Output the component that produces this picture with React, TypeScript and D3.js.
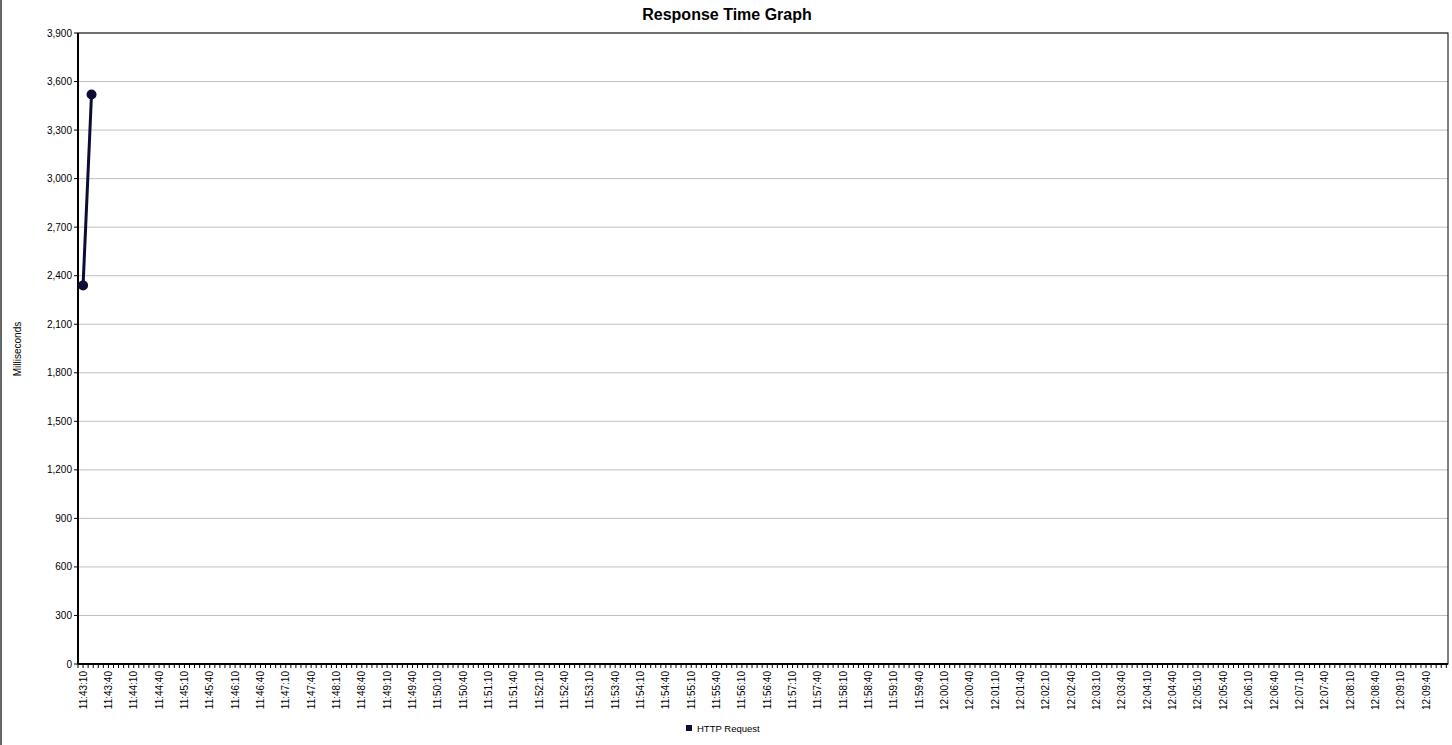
import React from "react";
import * as d3 from "d3";

const seriesName = "HTTP Request";
const times = ["11:43:10", "11:43:20"];
const values = [2340, 3520];
const yTicks = [0, 300, 600, 900, 1200, 1500, 1800, 2100, 2400, 2700, 3000, 3300, 3600, 3900];
const xStart = "11:43:04";
const xEnd = "12:10:06";
const labelStart = "11:43:10";

const parse = d3.timeParse("%H:%M:%S");
const fmt = d3.timeFormat("%H:%M:%S");

// ticks stepping from a given start (not aligned to clock boundaries)
const stepTicks = (from: Date, to: Date, sec: number) =>
  d3.range(0, (to.getTime() - from.getTime()) / 1000, sec).map((s) => d3.timeSecond.offset(from, s));

export default function App() {
  const W = 1452, H = 745;
  const m = { left: 78, right: 1448, top: 33, bottom: 664 };
  const x = d3.scaleTime().domain([parse(xStart)!, parse(xEnd)!]).range([m.left, m.right]);
  const y = d3.scaleLinear().domain([0, 3900]).range([m.bottom, m.top]);

  const labelTicks = stepTicks(parse(labelStart)!, parse("12:09:50")!, 30);
  const minorTicks = stepTicks(parse(xStart)!, parse(xEnd)!, 6);
  const pts = times.map((t, i) => [x(parse(t)!), y(values[i])] as [number, number]);
  const line = d3.line();
  const color = "#0c0c36";
  const font = "Arial, 'Liberation Sans', sans-serif";

  return (
    <svg width={W} height={H} style={{ position: "absolute", left: 0, top: 0, background: "#fff" }} fontFamily={font}>
      <line x1={1} x2={1} y1={0} y2={H} stroke="#666" strokeWidth={2} />
      <text x={727} y={20} textAnchor="middle" fontSize={16} fontWeight="bold">Response Time Graph</text>
      {yTicks.map((v) => (
        <g key={v}>
          {v > 0 && <line x1={m.left} x2={m.right} y1={y(v)} y2={y(v)} stroke="#c0c0c0" />}
          <line x1={m.left - 4} x2={m.left} y1={y(v)} y2={y(v)} stroke="#000" />
          <text x={m.left - 6} y={y(v) + 3.5} textAnchor="end" fontSize={10}>{d3.format(",")(v)}</text>
        </g>
      ))}
      <rect x={m.left} y={m.top} width={m.right - m.left} height={m.bottom - m.top} fill="none" stroke="#000" strokeWidth={1} />
      <line x1={m.left} x2={m.left} y1={m.top} y2={m.bottom} stroke="#000" strokeWidth={2} />
      <line x1={m.left} x2={m.right} y1={m.bottom} y2={m.bottom} stroke="#000" strokeWidth={2} />
      {minorTicks.map((t, i) => (
        <line key={i} x1={x(t)} x2={x(t)} y1={m.bottom} y2={m.bottom + 4} stroke="#000" />
      ))}
      {labelTicks.map((t, i) => (
        <text key={i} transform={`translate(${x(t) + 3.5},${m.bottom + 7}) rotate(-90)`} textAnchor="end" fontSize={10}>{fmt(t)}</text>
      ))}
      <text transform={`translate(21,349) rotate(-90)`} textAnchor="middle" fontSize={10}>Milliseconds</text>
      <path d={line(pts)!} fill="none" stroke={color} strokeWidth={3} />
      {pts.map((p, i) => <circle key={i} cx={p[0]} cy={p[1]} r={5} fill={color} />)}
      <rect x={686} y={725} width={6} height={6} fill={color} />
      <text x={697} y={732} fontSize={9.5}>{seriesName}</text>
    </svg>
  );
}
